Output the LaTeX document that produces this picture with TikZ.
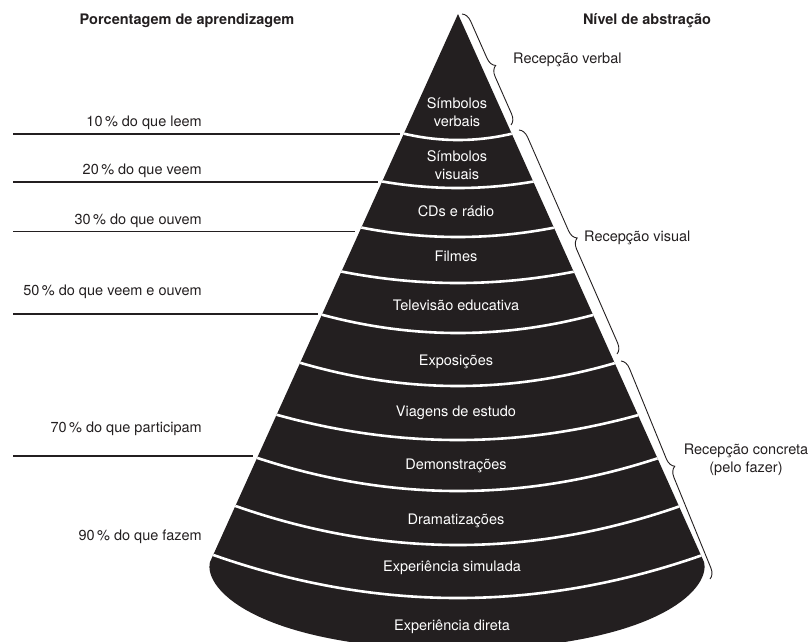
\documentclass[tikz,border=0pt]{standalone}
\usepackage{fontspec}
\setmainfont{TeX Gyre Heros}
\usetikzlibrary{decorations.pathreplacing}
\definecolor{ink}{HTML}{231F20}
\begin{document}
\begin{tikzpicture}[x=1pt,y=-1pt,
  txt/.style={font=\fontsize{14.5}{17.5}\selectfont, inner sep=0pt, text height=10.5pt, text depth=3pt, text=ink},
  ttl/.style={txt, font=\fontsize{14.5}{17.5}\selectfont\bfseries},
  conelab/.style={txt, text=white},
  conelabtwo/.style={font=\fontsize{14.5}{18}\selectfont, inner sep=0pt, align=center, text=white},
  leftlab/.style={txt, anchor=east},
  plinethick/.style={draw=ink, line width=1.8pt},
  plinethin/.style={draw=ink, line width=1.3pt},
  divider/.style={draw=white, line width=2.6pt},
  brc/.style={draw=ink, line width=0.9pt, decorate, decoration={brace, amplitude=10pt}},
]
\useasboundingbox (0,0) rectangle (811,641);
\clip (0,0) rectangle (811,641);

% cone
\def\conepath{(458,14) -- (210,562) .. controls (203,590) and (260,648) .. (458,650) .. controls (654,648) and (711,590) .. (704,562) -- cycle}
\fill[ink] \conepath;
\begin{scope}
  \clip \conepath;
  \foreach \ye/\s in {133/7,181/7,227/10,271/12,314/19,362/24,414/26,457/34,505/40,554/44}{
    \pgfmathsetmacro{\hw}{0.4526*(\ye-14)+3}
    \pgfmathsetmacro{\cy}{\ye+4*\s/3}
    \draw[divider] ({458-\hw},\ye) .. controls ({458-\hw/3},\cy) and ({458+\hw/3},\cy) .. ({458+\hw},\ye);
  }
\end{scope}

% cone labels
\node[conelabtwo] (sverb) at (457,112) {Símbolos\\verbais};
\node[conelabtwo] (svis) at (457,165) {Símbolos\\visuais};
\node[conelab] (cds) at (456,213) {CDs e rádio};
\node[conelab] (film) at (456,258) {Filmes};
\node[conelab] (tv) at (456,307) {Televisão educativa};
\node[conelab] (expo) at (456,362) {Exposições};
\node[conelab] (viag) at (456,413) {Viagens de estudo};
\node[conelab] (demo) at (456,466) {Demonstrações};
\node[conelab] (dram) at (456,521) {Dramatizações};
\node[conelab] (simu) at (452,568) {Experiência simulada};
\node[conelab] (dir) at (452,627) {Experiência direta};

% titles
\node[ttl] (tleft) at (187,21) {Porcentagem de aprendizagem};
\node[ttl] (tright) at (647,21) {Nível de abstração};

% left labels and lines
\node[leftlab] (p10) at (202,123) {10\,\% do que leem};
\node[leftlab] (p20) at (202,171) {20\,\% do que veem};
\node[leftlab] (p30) at (202,221) {30\,\% do que ouvem};
\node[leftlab] (p50) at (202,292) {50\,\% do que veem e ouvem};
\node[leftlab] (p70) at (202,429) {70\,\% do que participam};
\node[leftlab] (p90) at (202,537) {90\,\% do que fazem};

\coordinate (a10) at (13,134);   \coordinate (b10) at (400,134);
\coordinate (a20) at (13,182);   \coordinate (b20) at (378,182);
\coordinate (a30) at (13,231.5); \coordinate (b30) at (355,231.5);
\coordinate (a50) at (13,314);   \coordinate (b50) at (318,314);
\coordinate (a70) at (13,456);   \coordinate (b70) at (253,456);
\draw[plinethick] (a10) -- (b10);
\draw[plinethick] (a20) -- (b20);
\draw[plinethin] (a30) -- (b30);
\draw[plinethin] (a50) -- (b50);
\draw[plinethick] (a70) -- (b70);

% braces and right labels
\coordinate (br1s) at (462,14);  \coordinate (br1e) at (511,125);
\coordinate (br2s) at (519,130); \coordinate (br2e) at (617,354);
\coordinate (br3s) at (621,361); \coordinate (br3e) at (710,579);
\draw[brc] (br1s) -- (br1e);
\draw[brc] (br2s) -- (br2e);
\draw[brc] (br3s) -- (br3e);

\node[txt, anchor=west] (rverb) at (513,60) {Recepção verbal};
\node[txt, anchor=west] (rvis) at (584,238) {Recepção visual};
\node[font=\fontsize{14.5}{17.5}\selectfont, inner sep=0pt, align=center, text=ink] (rconc) at (746,460) {Recepção concreta\\(pelo fazer)};
\end{tikzpicture}
\end{document}
